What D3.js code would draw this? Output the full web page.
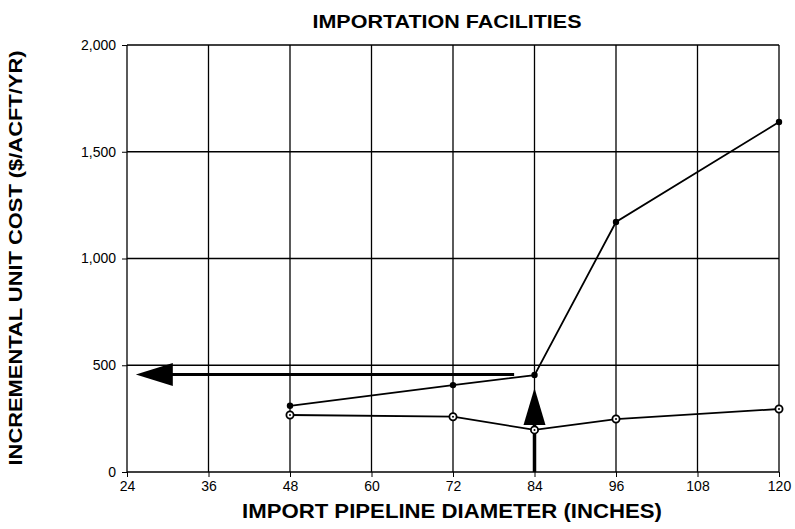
<!DOCTYPE html>
<html>
<head>
<meta charset="utf-8">
<script src="https://cdn.jsdelivr.net/npm/d3@7"></script>
<style>
  body { margin: 0; background: #fff; }
  text { font-family: "Liberation Sans", Arial, sans-serif; fill: #000; }
</style>
</head>
<body>
<script>
"use strict";

var width = 795;
var height = 529;

// data
var diameters = [48, 72, 84, 96, 120];
var upperCost = [310, 407, 454, 1171, 1639];
var lowerCost = [267, 259, 197, 248, 295];
var xTicks = [24, 36, 48, 60, 72, 84, 96, 108, 120];
var yTicks = [0, 500, 1000, 1500, 2000];
var leftArrow = { fromX: 81, toX: 25.3, y: 457 };
var upArrow = { x: 84, fromY: 0, toY: 393 };

var svg = d3.select("body").append("svg").attr("width", width).attr("height", height);

var xScale = d3.scaleLinear().domain([24, 120]).range([127, 779]);
var yScale = d3.scaleLinear().domain([0, 2000]).range([472, 45]);

// gridlines
svg.append("g").selectAll("line").data(xTicks).enter().append("line")
  .attr("x1", function (d) { return xScale(d); }).attr("x2", function (d) { return xScale(d); })
  .attr("y1", yScale(0)).attr("y2", yScale(2000))
  .attr("stroke", "#000").attr("stroke-width", 1.3);
svg.append("g").selectAll("line").data(yTicks).enter().append("line")
  .attr("x1", xScale(24)).attr("x2", xScale(120))
  .attr("y1", function (d) { return yScale(d); }).attr("y2", function (d) { return yScale(d); })
  .attr("stroke", "#000").attr("stroke-width", 1.3);

// axes
var xAxis = d3.axisBottom(xScale).tickValues(xTicks).tickSize(5).tickPadding(4);
var gx = svg.append("g").attr("transform", "translate(0," + yScale(0) + ")").call(xAxis);
gx.select(".domain").remove();
gx.selectAll("text").style("font-size", "14px").style("font-family", "\"Liberation Sans\", Arial, sans-serif");

var yAxis = d3.axisLeft(yScale).tickValues(yTicks).tickSize(5).tickPadding(6).tickFormat(d3.format(","));
var gy = svg.append("g").attr("transform", "translate(" + xScale(24) + ",0)").call(yAxis);
gy.select(".domain").remove();
gy.selectAll("text").style("font-size", "14px").style("font-family", "\"Liberation Sans\", Arial, sans-serif");

// lines
var line = d3.line().x(function (d) { return xScale(d[0]); }).y(function (d) { return yScale(d[1]); });
var upper = diameters.map(function (d, i) { return [d, upperCost[i]]; });
var lower = diameters.map(function (d, i) { return [d, lowerCost[i]]; });

svg.append("path").datum(upper).attr("d", line).attr("fill", "none").attr("stroke", "#000").attr("stroke-width", 1.8);
svg.append("path").datum(lower).attr("d", line).attr("fill", "none").attr("stroke", "#000").attr("stroke-width", 1.8);

// arrows
var lx = xScale(leftArrow.toX), ly = yScale(leftArrow.y);
svg.append("line").attr("x1", xScale(leftArrow.fromX)).attr("x2", lx + 30)
  .attr("y1", ly).attr("y2", ly).attr("stroke", "#000").attr("stroke-width", 3);
svg.append("path").attr("d", "M" + lx + "," + ly + "L" + (lx + 37) + "," + (ly - 11.5) + "L" + (lx + 37) + "," + (ly + 11.5) + "Z").attr("fill", "#000");

var ux = xScale(upArrow.x), uy = yScale(upArrow.toY);
svg.append("line").attr("x1", ux).attr("x2", ux)
  .attr("y1", yScale(upArrow.fromY)).attr("y2", uy + 30).attr("stroke", "#000").attr("stroke-width", 3.5);
svg.append("path").attr("d", "M" + ux + "," + uy + "L" + (ux - 11) + "," + (uy + 37) + "L" + (ux + 11) + "," + (uy + 37) + "Z").attr("fill", "#000");

// markers
svg.append("g").selectAll("circle").data(upper).enter().append("circle")
  .attr("cx", function (d) { return xScale(d[0]); }).attr("cy", function (d) { return yScale(d[1]); })
  .attr("r", 3.2).attr("fill", "#000");
var lowMarks = svg.append("g").selectAll("g").data(lower).enter().append("g");
lowMarks.append("circle")
  .attr("cx", function (d) { return xScale(d[0]); }).attr("cy", function (d) { return yScale(d[1]); })
  .attr("r", 3.6).attr("fill", "#fff").attr("stroke", "#000").attr("stroke-width", 1.8);
lowMarks.append("circle")
  .attr("cx", function (d) { return xScale(d[0]); }).attr("cy", function (d) { return yScale(d[1]); })
  .attr("r", 1).attr("fill", "#000");

// titles
svg.append("text").attr("x", 447).attr("y", 28).attr("text-anchor", "middle")
  .attr("textLength", 269).attr("lengthAdjust", "spacingAndGlyphs")
  .style("font-size", "18px").style("font-weight", "bold").text("IMPORTATION FACILITIES");
svg.append("text").attr("x", 452).attr("y", 518).attr("text-anchor", "middle")
  .attr("textLength", 420).attr("lengthAdjust", "spacingAndGlyphs")
  .style("font-size", "20px").style("font-weight", "bold").text("IMPORT PIPELINE DIAMETER (INCHES)");
svg.append("text").attr("transform", "translate(22,258) rotate(-90)").attr("text-anchor", "middle")
  .attr("textLength", 415).attr("lengthAdjust", "spacingAndGlyphs")
  .style("font-size", "19px").style("font-weight", "bold").text("INCREMENTAL UNIT COST ($/ACFT/YR)");
</script>
</body>
</html>
